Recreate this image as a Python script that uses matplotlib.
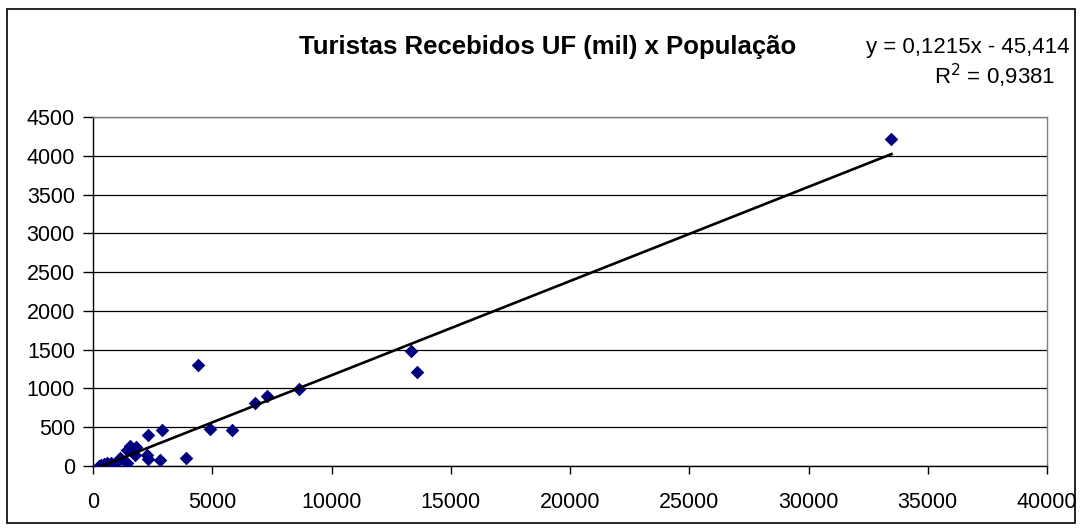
import matplotlib.pyplot as plt
import numpy as np
from matplotlib.patches import Rectangle

plt.rcParams['font.family'] = ['Liberation Sans', 'DejaVu Sans']

# population of each UF (mil) and tourists received (mil)
populacao = [33480, 13350, 13580, 8630, 7290, 6790, 5820, 4890, 4400, 3880,
             2890, 2820, 2320, 2320, 2280, 1760, 1790, 1550, 1410, 1440,
             1115, 910, 740, 580, 460, 350, 250]
turistas = [4210, 1477, 1206, 988, 906, 816, 464, 477, 1301, 107,
            470, 80, 395, 93, 139, 140, 242, 255, 210, 45,
            100, 32, 41, 41, 25, 10, 0]

# linear trend reported on the chart
slope = 0.1215
intercept = -45.414

x_ticks = [0, 5000, 10000, 15000, 20000, 25000, 30000, 35000, 40000]
y_ticks = [0, 500, 1000, 1500, 2000, 2500, 3000, 3500, 4000, 4500]

fig = plt.figure(figsize=(10.83, 5.30), dpi=100)
ax = fig.add_axes([93/1083, 1 - 466/530, (1047 - 93)/1083, (466 - 117)/530])

# outer chart frame
fig.patches.append(Rectangle((7/1083, 1 - 523/530), (1075 - 7)/1083, (523 - 9)/530,
                             transform=fig.transFigure, fill=False,
                             edgecolor='black', lw=1.2, zorder=0))

ax.set_xlim(0, 40000)
ax.set_ylim(0, 4500)
ax.set_xticks(x_ticks)
ax.set_yticks(y_ticks)
ax.tick_params(direction='out', width=1, color='black', labelsize=15.5)
ax.tick_params(axis='y', length=7, pad=6)
ax.tick_params(axis='x', length=6, pad=13)
ax.yaxis.grid(True, color='black', lw=0.9)
ax.set_axisbelow(True)
for side in ['top', 'right']:
    ax.spines[side].set_color('#808080')
    ax.spines[side].set_linewidth(1)
for side in ['left', 'bottom']:
    ax.spines[side].set_color('black')
    ax.spines[side].set_linewidth(1)

ax.scatter(populacao, turistas, marker='D', s=48, color='#000080', zorder=3, linewidths=0)

xs = np.array([min(populacao), max(populacao)])
ax.plot(xs, slope * xs + intercept, color='black', lw=1.9, zorder=4)

fig.text(548/1083, 1 - 47/530, 'Turistas Recebidos UF (mil) x População',
         ha='center', va='center', fontsize=18.5, fontweight='bold')
fig.text(968/1083, 1 - 48/530, 'y = 0,1215x - 45,414', ha='center', va='center', fontsize=16)
fig.text(995/1083, 1 - 76/530, 'R$^2$ = 0,9381', ha='center', va='center', fontsize=16)

fig.savefig('out.png', dpi=100)
